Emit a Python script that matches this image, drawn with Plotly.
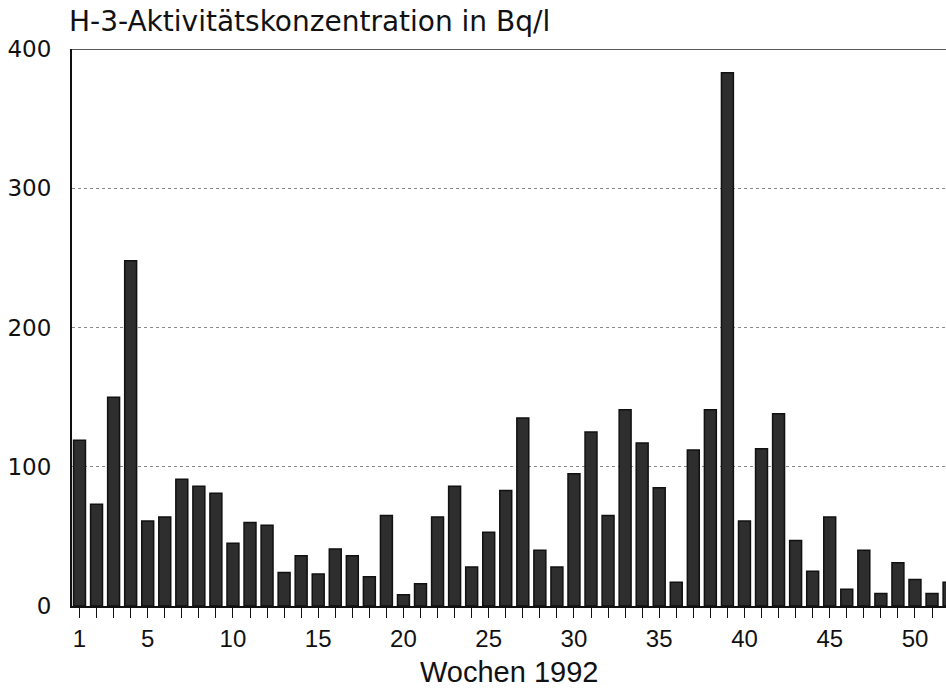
import plotly.graph_objects as go

# weekly H-3 activity concentration (Bq/l)
weeks = list(range(1, 53))
h3_values = [119, 73, 150, 248, 61, 64, 91, 86, 81, 45,
             60, 58, 24, 36, 23, 41, 36, 21, 65, 8,
             16, 64, 86, 28, 53, 83, 135, 40, 28, 95,
             125, 65, 141, 117, 85, 17, 112, 141, 383, 61,
             113, 138, 47, 25, 64, 12, 40, 9, 31, 19,
             9, 17]
label_weeks = [1, 5, 10, 15, 20, 25, 30, 35, 40, 45, 50]
y_ticks = [0, 100, 200, 300, 400]

tick_text = [str(w) if w in label_weeks else "" for w in weeks]

fig = go.Figure()
fig.add_trace(go.Bar(
    x=weeks, y=h3_values,
    marker=dict(color="#2e2e2e", line=dict(color="#111111", width=1.5)),
    showlegend=False,
))

# solid frame line at the top (400)
fig.add_shape(type="line", xref="paper", yref="y", x0=0, x1=1, y0=400, y1=400,
              line=dict(color="#222222", width=1.5))

# chart title above the plot and the x axis title below
fig.add_annotation(text="H-3-Aktivitätskonzentration in Bq/l", xref="paper", yref="paper",
                   x=-0.006, y=1.05, xanchor="left", yanchor="middle", showarrow=False,
                   font=dict(family="DejaVu Sans", size=28, color="#111111"))
fig.add_annotation(text="Wochen 1992", xref="paper", yref="paper",
                   x=0.5, y=-0.118, xanchor="center", yanchor="middle", showarrow=False,
                   font=dict(family="Liberation Sans", size=29, color="#111111"))

fig.update_layout(
    width=946, height=689,
    margin=dict(l=72, r=0, t=49, b=83),
    plot_bgcolor="white", paper_bgcolor="white",
    bargap=0.3,
    font=dict(family="Liberation Sans", color="#111111"),
    xaxis=dict(
        range=[0.56, 51.82], tickmode="array", tickvals=weeks, ticktext=tick_text,
        ticks="outside", ticklen=10, tickwidth=1.2, tickcolor="#111111",
        showline=True, linecolor="#111111", linewidth=1.5,
        showgrid=False, zeroline=False,
        tickfont=dict(family="Liberation Sans", size=24),
    ),
    yaxis=dict(
        range=[0, 400], tickmode="array", tickvals=y_ticks,
        ticks="", ticklabelstandoff=14,
        showline=True, linecolor="#111111", linewidth=2,
        showgrid=True, gridcolor="#888888", gridwidth=1, griddash="dot",
        zeroline=False,
        tickfont=dict(family="DejaVu Sans", size=23),
    ),
)

fig.write_html("out.html", config={"displayModeBar": False},
               post_script="document.body.style.margin='0';document.body.style.overflow='hidden';")
